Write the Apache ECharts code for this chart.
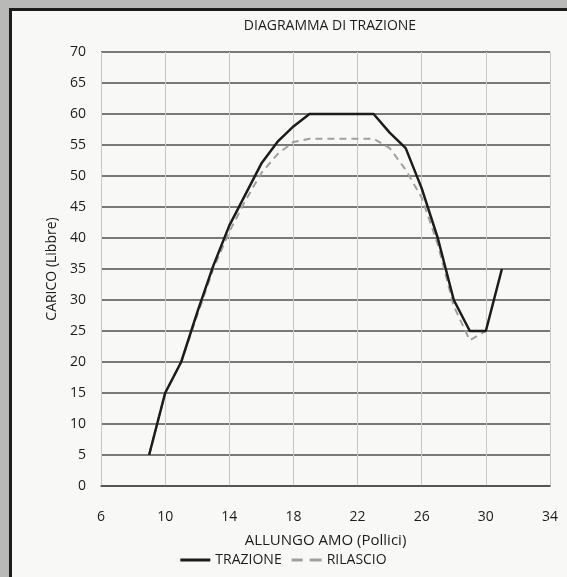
<!DOCTYPE html>
<html>
<head>
<meta charset="utf-8">
<script src="https://cdn.jsdelivr.net/npm/echarts@6/dist/echarts.min.js"></script>
<style>
html,body{margin:0;padding:0;background:#b9b9b7;}
#c{width:567px;height:577px;}
</style>
</head>
<body>
<div id="c"></div>
<script>
var xValues = [9,10,11,12,13,14,15,16,17,18,19,20,21,22,23,24,25,26,27,28,29,30,31];
var trazione = [5,15,20,28,35.5,42,47,52,55.5,58,60,60,60,60,60,57,54.5,48,40,30,25,25,35];
var rilascioX = [9,10,11,12,13,14,15,16,17,18,19,20,21,22,23,24,25,26,27,28,29,30];
var rilascio = [5,15,20,27.5,35,41,46,50.5,53.5,55.5,56,56,56,56,56,54.5,51,46.5,39,29,23.5,25];
var xTicks = {min:6, max:34, interval:4};
var yTicks = {min:0, max:70, interval:5};
var titleText = 'DIAGRAMMA DI TRAZIONE';
var xName = 'ALLUNGO AMO (Pollici)';
var yName = 'CARICO (Libbre)';
var seriesNames = ['TRAZIONE','RILASCIO'];

function pairs(xs, ys){ return xs.map(function(x,i){return [x, ys[i]];}); }

var font = '"Open Sans", "DejaVu Sans", sans-serif';
var ink = '#1c1c1c';
var chart = echarts.init(document.getElementById('c'));
chart.setOption({
  animation:false,
  backgroundColor:'#b9b9b7',
  graphic:[
    {type:'rect', z:-100, silent:true, shape:{x:10.5,y:9.5,width:600,height:600},
     style:{fill:'#f8f8f6', stroke:ink, lineWidth:3}}
  ],
  title:{text:titleText, left:325, textAlign:'center', top:14,
    textStyle:{fontFamily:font, fontSize:14, fontWeight:'normal', color:ink}},
  grid:{left:101, right:17, top:52, bottom:91},
  legend:{bottom:5, left:'center', itemWidth:30, itemHeight:3, itemGap:10,
    textStyle:{fontFamily:font, fontSize:14, color:ink},
    data:[
      {name:seriesNames[0], icon:'path://M0,0h30v3h-30z', itemStyle:{color:ink}},
      {name:seriesNames[1], icon:'path://M0,0h11v3h-11zM18,0h12v3h-12z', itemStyle:{color:'#a0a0a0'}}
    ]},
  xAxis:{type:'value', min:xTicks.min, max:xTicks.max, interval:xTicks.interval,
    name:xName, nameLocation:'middle', nameGap:47,
    nameTextStyle:{fontFamily:font, fontSize:15, color:ink},
    axisLine:{show:true, lineStyle:{color:'#4a4a4a', width:1.5}},
    axisTick:{show:false},
    axisLabel:{margin:24, fontFamily:font, fontSize:14, color:ink},
    splitLine:{show:true, lineStyle:{color:'#c8c8c8', width:1}}},
  yAxis:{type:'value', min:yTicks.min, max:yTicks.max, interval:yTicks.interval,
    name:yName, nameLocation:'middle', nameGap:39,
    nameTextStyle:{fontFamily:font, fontSize:14, color:ink},
    axisLine:{show:false}, axisTick:{show:false},
    axisLabel:{margin:15, fontFamily:font, fontSize:14, color:ink},
    splitLine:{show:true, lineStyle:{color:'#4f4f4f', width:1.5}}},
  series:[
    {name:seriesNames[1], type:'line', data:pairs(rilascioX, rilascio), showSymbol:false, symbol:'none',
     z:2, lineStyle:{color:'#a0a0a0', width:2, type:[7,5]}, itemStyle:{color:'#a0a0a0'}},
    {name:seriesNames[0], type:'line', data:pairs(xValues, trazione), showSymbol:false, symbol:'none',
     z:3, lineStyle:{color:ink, width:2.5}, itemStyle:{color:ink}}
  ]
});
</script>
</body>
</html>
